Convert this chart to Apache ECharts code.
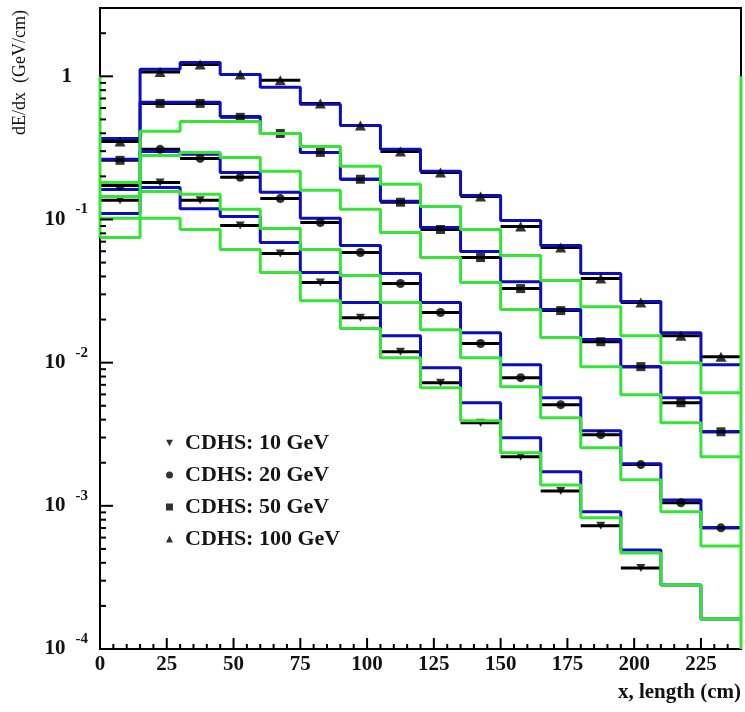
<!DOCTYPE html>
<html>
<head>
<meta charset="utf-8">
<script src="https://cdn.jsdelivr.net/npm/echarts@6/dist/echarts.min.js"></script>
<style>
  html, body { margin: 0; padding: 0; background: #ffffff; }
  #chart { width: 745px; height: 712px; }
</style>
</head>
<body>
<div id="chart"></div>
<script>
// Longitudinal energy deposition along the calorimeter, 15 cm bins
const binEdges = [0, 15, 30, 45, 60, 75, 90, 105, 120, 135, 150, 165, 180, 195, 210, 225, 240];

// CDHS measurements, dE/dx in GeV/cm per bin
const cdhs10  = [0.136, 0.181, 0.136, 0.0908, 0.0578, 0.0363, 0.0206, 0.0119, 0.00725, 0.00380, 0.00220, 0.00127, 0.000725, 0.000368];
const cdhs20  = [0.173, 0.309, 0.267, 0.197, 0.140, 0.0953, 0.0588, 0.0357, 0.0224, 0.0136, 0.00786, 0.00509, 0.00314, 0.00194, 0.00105, 0.000702];
const cdhs50  = [0.259, 0.647, 0.647, 0.517, 0.399, 0.294, 0.191, 0.132, 0.0851, 0.0542, 0.0329, 0.0231, 0.0140, 0.00938, 0.00525, 0.00329];
const cdhs100 = [0.351, 1.07, 1.21, 1.03, 0.938, 0.647, 0.454, 0.299, 0.213, 0.145, 0.0893, 0.0637, 0.0387, 0.0263, 0.0154, 0.0110];

// Simulated profiles (blue histograms)
const blue10  = [0.110, 0.167, 0.119, 0.105, 0.0691, 0.0426, 0.0263, 0.0154, 0.00923, 0.00525, 0.00299, 0.00173, 0.000908, 0.000492, 0.000280, 0.000162];
const blue20  = [0.162, 0.299, 0.285, 0.213, 0.155, 0.102, 0.0658, 0.0419, 0.0263, 0.0162, 0.00968, 0.00569, 0.00335, 0.00197, 0.00110, 0.000702];
const blue50  = [0.263, 0.658, 0.658, 0.525, 0.399, 0.294, 0.191, 0.134, 0.0879, 0.0597, 0.0368, 0.0235, 0.0145, 0.00938, 0.00569, 0.00329];
const blue100 = [0.368, 1.12, 1.25, 1.03, 0.838, 0.637, 0.454, 0.309, 0.217, 0.147, 0.0984, 0.0658, 0.0419, 0.0267, 0.0162, 0.00968];

// Simulated profiles (green histograms)
const green10  = [0.0748, 0.102, 0.0851, 0.0617, 0.0426, 0.0271, 0.0173, 0.0108, 0.00669, 0.00393, 0.00235, 0.00140, 0.000824, 0.000469, 0.000280, 0.000162];
const green20  = [0.102, 0.157, 0.150, 0.118, 0.0865, 0.0617, 0.0406, 0.0263, 0.0170, 0.0108, 0.00680, 0.00412, 0.00254, 0.00152, 0.000908, 0.000525];
const green50  = [0.145, 0.280, 0.294, 0.271, 0.217, 0.160, 0.118, 0.0811, 0.0542, 0.0363, 0.0235, 0.0150, 0.00938, 0.00597, 0.00380, 0.00220];
const green100 = [0.181, 0.413, 0.484, 0.484, 0.399, 0.324, 0.235, 0.176, 0.123, 0.0851, 0.0560, 0.0375, 0.0246, 0.0154, 0.0100, 0.00617];

// Green outline along the frame edges
const edgeLeft  = [[0, 1], [0, 0.0748]];
const edgeRight = [[240, 1], [240, 0.0001]];

// Axis ticks
const yMajorTicks = [0.0001, 0.001, 0.01, 0.1, 1];
const yMinorTicks = [
  0.0002, 0.0003, 0.0004, 0.0005, 0.0006, 0.0007, 0.0008, 0.0009,
  0.002, 0.003, 0.004, 0.005, 0.006, 0.007, 0.008, 0.009,
  0.02, 0.03, 0.04, 0.05, 0.06, 0.07, 0.08, 0.09,
  0.2, 0.3, 0.4, 0.5, 0.6, 0.7, 0.8, 0.9,
  2
];
const xMajorTicks = [0, 25, 50, 75, 100, 125, 150, 175, 200, 225];
const xMinorTicks = [5, 10, 15, 20, 30, 35, 40, 45, 55, 60, 65, 70, 80, 85, 90, 95,
  105, 110, 115, 120, 130, 135, 140, 145, 155, 160, 165, 170, 180, 185, 190, 195,
  205, 210, 215, 220, 230, 235];

const legendNames = ['CDHS: 10 GeV', 'CDHS: 20 GeV', 'CDHS: 50 GeV', 'CDHS: 100 GeV'];

const BLUE = '#0c0cc0';
const GREEN = '#36e436';
const SERIF = '"Liberation Serif", "Times New Roman", serif';
const DOWN_TRIANGLE = 'path://M0,0L10,0L5,9Z';

function histPoints(vals) {
  // left edge of each bin, plus the closing right edge
  const pts = vals.map((v, i) => [binEdges[i], v]);
  pts.push([binEdges[vals.length], vals[vals.length - 1]]);
  return pts;
}

function histSeries(vals, color, z) {
  return {
    type: 'line', step: 'end', data: histPoints(vals),
    showSymbol: false, symbol: 'none', silent: true, z: z,
    lineStyle: { color: color, width: 3 }
  };
}

function errorBarSeries(vals) {
  return {
    type: 'custom', silent: true, z: 2,
    encode: { x: [0, 1], y: 2 },
    data: vals.map((v, i) => [binEdges[i], binEdges[i + 1], v]),
    renderItem: function (params, api) {
      const a = api.coord([api.value(0), api.value(2)]);
      const b = api.coord([api.value(1), api.value(2)]);
      return { type: 'line', shape: { x1: a[0], y1: a[1], x2: b[0], y2: b[1] },
               style: { stroke: '#000', lineWidth: 3 } };
    }
  };
}

function markerSeries(name, vals, symbol, size) {
  return {
    name: name, type: 'scatter', silent: true, z: 4,
    symbol: symbol, symbolSize: size,
    itemStyle: { color: '#000' },
    data: vals.map((v, i) => [(binEdges[i] + binEdges[i + 1]) / 2, v])
  };
}

function yTickSeries(vals, len, width) {
  return {
    type: 'custom', silent: true, z: 6, clip: false,
    data: vals.map(v => [0, v]),
    renderItem: function (params, api) {
      const p = api.coord([api.value(0), api.value(1)]);
      return { type: 'line', shape: { x1: p[0], y1: p[1], x2: p[0] + len, y2: p[1] },
               style: { stroke: '#000', lineWidth: width } };
    }
  };
}

function xTickSeries(vals, len, width) {
  return {
    type: 'custom', silent: true, z: 6, clip: false,
    data: vals.map(v => [v, 0.0001]),
    renderItem: function (params, api) {
      const p = api.coord([api.value(0), api.value(1)]);
      return { type: 'line', shape: { x1: p[0], y1: p[1], x2: p[0], y2: p[1] - len },
               style: { stroke: '#000', lineWidth: width } };
    }
  };
}

const chart = echarts.init(document.getElementById('chart'), null, { renderer: 'canvas' });

chart.setOption({
  animation: false,
  backgroundColor: '#ffffff',
  grid: {
    left: 100, right: 4, top: 8, bottom: 63,
    containLabel: false, outerBoundsMode: 'none',
    show: true, borderColor: '#000', borderWidth: 2, backgroundColor: 'transparent'
  },
  legend: {
    orient: 'vertical', left: 161, top: 427,
    itemWidth: 7, itemHeight: 7, itemGap: 10,
    selectedMode: false,
    data: legendNames,
    textStyle: { fontFamily: SERIF, fontWeight: 'bold', fontSize: 22, color: '#151515',
                 lineHeight: 22, padding: [0, 0, 0, 7] }
  },
  xAxis: {
    type: 'value', min: 0, max: 240, interval: 25,
    axisLine: { show: true, lineStyle: { color: '#000', width: 2 } },
    axisTick: { show: false },
    splitLine: { show: false },
    axisLabel: {
      margin: 5, color: '#111', fontFamily: SERIF, fontWeight: 'bold', fontSize: 21,
      showMaxLabel: false,
      formatter: v => (xMajorTicks.indexOf(v) >= 0 ? String(v) : '')
    }
  },
  yAxis: {
    type: 'log', logBase: 10, min: 0.0001, max: 3,
    axisLine: { show: true, lineStyle: { color: '#000', width: 2 } },
    axisTick: { show: false },
    splitLine: { show: false },
    axisLabel: {
      margin: 12, color: '#111', showMaxLabel: false,
      formatter: function (v) {
        const hit = yMajorTicks.find(t => Math.abs(Math.log10(t) - Math.log10(v)) < 1e-6);
        if (hit === undefined) return '';
        const e = Math.round(Math.log10(hit));
        if (e === 0) return '{one|1}';
        return '{b|10}{s|' + e + '}';
      },
      rich: {
        one: { fontFamily: SERIF, fontWeight: 'bold', fontSize: 21, padding: [0, 16, 0, 0] },
        b: { fontFamily: SERIF, fontWeight: 'bold', fontSize: 21 },
        s: { fontFamily: SERIF, fontWeight: 'bold', fontSize: 15, padding: [0, 0, 20, 10] }
      }
    }
  },
  graphic: [
    {
      type: 'text', x: 20, y: 10, rotation: Math.PI / 2, silent: true,
      style: { text: 'dE/dx  (GeV/cm)', font: '18px ' + SERIF, fill: '#111',
               align: 'right', verticalAlign: 'middle' }
    },
    {
      type: 'text', x: 741, y: 693, silent: true,
      style: { text: 'x, length (cm)', font: 'bold 21px ' + SERIF, fill: '#111',
               align: 'right', verticalAlign: 'middle' }
    }
  ],
  series: [
    errorBarSeries(cdhs10), errorBarSeries(cdhs20), errorBarSeries(cdhs50), errorBarSeries(cdhs100),
    histSeries(blue10, BLUE, 3), histSeries(blue20, BLUE, 3), histSeries(blue50, BLUE, 3), histSeries(blue100, BLUE, 3),
    markerSeries(legendNames[0], cdhs10, DOWN_TRIANGLE, [9, 8]),
    markerSeries(legendNames[1], cdhs20, 'circle', 9),
    markerSeries(legendNames[2], cdhs50, 'rect', 9),
    markerSeries(legendNames[3], cdhs100, 'triangle', [11, 10]),
    histSeries(green10, GREEN, 5), histSeries(green20, GREEN, 5), histSeries(green50, GREEN, 5), histSeries(green100, GREEN, 5),
    { type: 'line', data: edgeLeft, showSymbol: false, symbol: 'none', silent: true, clip: false, z: 5,
      lineStyle: { color: GREEN, width: 3 } },
    { type: 'line', data: edgeRight, showSymbol: false, symbol: 'none', silent: true, clip: false, z: 5,
      lineStyle: { color: GREEN, width: 3 } },
    yTickSeries(yMajorTicks, 13, 2),
    yTickSeries(yMinorTicks, 6, 2),
    xTickSeries(xMajorTicks, 11, 2),
    xTickSeries(xMinorTicks, 5, 2)
  ]
});
</script>
</body>
</html>
